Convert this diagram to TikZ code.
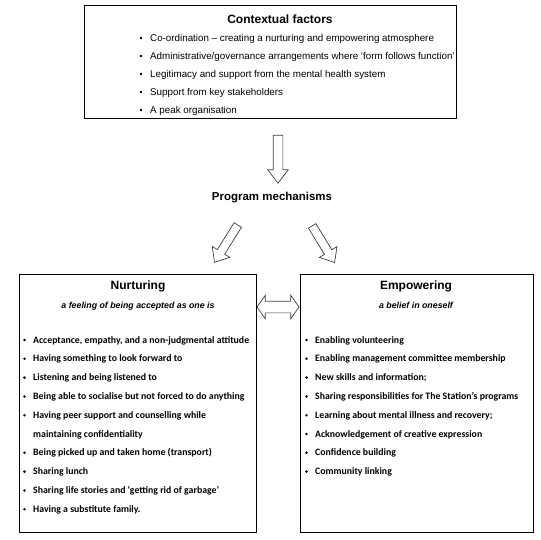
\documentclass[tikz,border=0pt]{standalone}
\usepackage{fontspec}
\setmainfont{Liberation Sans}
\newfontfamily\calib{Carlito}
\usetikzlibrary{shapes.arrows}
\begin{document}
\begin{tikzpicture}[x=1pt,y=-1pt,
  box/.style={draw=black, line width=0.9pt, minimum width=#1, anchor=north west, inner sep=0pt},
  ttl/.style={font=\bfseries\fontsize{12}{14}\selectfont, inner sep=0pt, anchor=base},
  subttl/.style={font=\bfseries\itshape\fontsize{8.8}{10}\selectfont, inner sep=0pt, anchor=base},
  ctx/.style={font=\fontsize{9.8}{12}\selectfont, inner sep=0pt, anchor=base west},
  itm/.style={font=\calib\bfseries\fontsize{9.8}{12}\selectfont, inner sep=0pt, anchor=base west},
  dot/.style={circle, fill=black, inner sep=0pt, minimum size=2.8pt},
  blk/.style={draw=black!75, fill=white, line width=0.7pt, inner xsep=0pt}
]
\useasboundingbox (0,0) rectangle (541,540);

% top box
\node[box=372pt, minimum height=113pt] (ctxbox) at (84,5) {};
\node[ttl] (ctxt) at (280,24) {Contextual factors};
\foreach \t [count=\i] in {
  {Co-ordination -- creating a nurturing and empowering atmosphere},
  {Administrative/governance arrangements where `form follows function'},
  {Legitimacy and support from the mental health system},
  {Support from key stakeholders},
  {A peak organisation}} {
  \node[ctx] (c\i) at (150,{41.5+18*(\i-1)}) {\t};
  \node[dot] (cd\i) at (141,{38+18*(\i-1)}) {};
}

% down arrow
\node[blk, single arrow, inner ysep=4.5pt, minimum width=20pt, minimum height=48pt,
  single arrow head extend=5.5pt, single arrow tip angle=75, rotate=-90] (a0) at (278,156) {};

\node[font=\bfseries\fontsize{11.5}{13}\selectfont, inner sep=0pt, anchor=base] (pm) at (272,201) {Program mechanisms};

% diagonal arrows
\node[blk, single arrow, inner ysep=4pt, minimum width=20pt, minimum height=44pt,
  single arrow head extend=6pt, single arrow tip angle=80, rotate=238] (al) at (227.5,241.5) {};
\node[blk, single arrow, inner ysep=4pt, minimum width=20pt, minimum height=43pt,
  single arrow head extend=6pt, single arrow tip angle=80, rotate=-58.5] (ar) at (322,242) {};

% left box
\node[box=237pt, minimum height=258pt] (nbox) at (19,274) {};
\node[ttl] (nt) at (138,289) {Nurturing};
\node[subttl] (ns) at (138,308) {a feeling of being accepted as one is};
\foreach \t [count=\i] in {
  {Acceptance, empathy, and a non-judgmental attitude},
  {Having something to look forward to},
  {Listening and being listened to},
  {Being able to socialise but not forced to do anything},
  {Having peer support and counselling while}} {
  \node[itm] (n\i) at (33,{343+18.8*(\i-1)}) {\t};
  \node[dot] (nd\i) at (24.5,{340+18.8*(\i-1)}) {};
}
\node[itm] (n5b) at (33,{343+18.8*5}) {maintaining confidentiality};
\foreach \t [count=\i from 6] in {
  {Being picked up and taken home (transport)},
  {Sharing lunch},
  {Sharing life stories and ‘getting rid of garbage’},
  {Having a substitute family.}} {
  \node[itm] (n\i) at (33,{343+18.8*\i}) {\t};
  \node[dot] (nd\i) at (24.5,{340+18.8*\i}) {};
}

% right box
\node[box=233pt, minimum height=258pt] (ebox) at (300,274) {};
\node[ttl] (et) at (416,289) {Empowering};
\node[subttl] (es) at (416,308) {a belief in oneself};
\foreach \t [count=\i] in {
  {Enabling volunteering},
  {Enabling management committee membership},
  {New skills and information;},
  {Sharing responsibilities for The Station’s programs},
  {Learning about mental illness and recovery;},
  {Acknowledgement of creative expression},
  {Confidence building},
  {Community linking}} {
  \node[itm] (e\i) at (315,{343+18.8*(\i-1)}) {\t};
  \node[dot] (ed\i) at (306.5,{340+18.8*(\i-1)}) {};
}

% double arrow between boxes
\node[blk, double arrow, inner ysep=5.5pt, minimum width=23pt, minimum height=42pt,
  double arrow head extend=6pt, double arrow tip angle=110] (dbl) at (278,307) {};
\end{tikzpicture}
\end{document}
